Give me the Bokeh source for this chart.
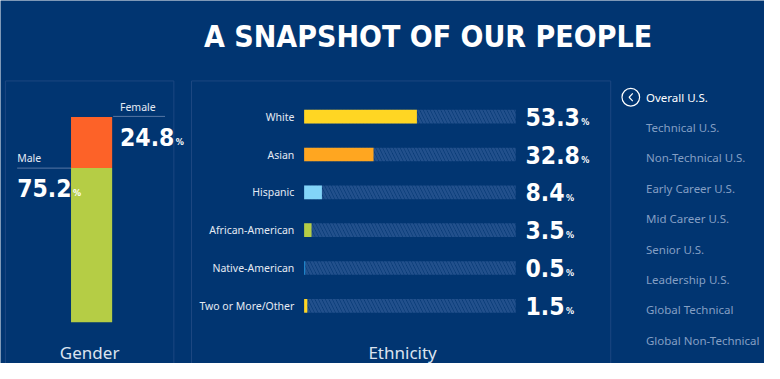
from bokeh.plotting import figure
from bokeh.models import Range1d
from bokeh.core.properties import value
from bokeh.embed import file_html
from bokeh.resources import INLINE

# ---------------- data ----------------
title = "A SNAPSHOT OF OUR PEOPLE"

gender_labels = ["Male", "Female"]
gender_values = [75.2, 24.8]
gender_colors = ["#b5cd45", "#fd6228"]

eth_labels = ["White", "Asian", "Hispanic", "African-American", "Native-American", "Two or More/Other"]
eth_values = [53.3, 32.8, 8.4, 3.5, 0.5, 1.5]
eth_colors = ["#ffd623", "#ffa620", "#82d4f8", "#b5cd45", "#1f8fd6", "#ffd623"]

menu_items = ["Overall U.S.", "Technical U.S.", "Non-Technical U.S.", "Early Career U.S.",
              "Mid Career U.S.", "Senior U.S.", "Leadership U.S.", "Global Technical",
              "Global Non-Technical"]

# ---------------- style / layout ----------------
BG = "#013571"
PANEL = "#1c4781"
HATCH = "#22508c"
TXT = "#e4eaf3"
MUTED = "#849fc4"
COND = value("DejaVu Sans Condensed")
SANS = value("Noto Sans")

RW, RH = 780, 379          # design canvas (reference units)
PW, PH = 764, 363          # figure pixels
SX = PW / RW               # px per design unit

p = figure(width=PW, height=PH, x_range=Range1d(0, RW), y_range=Range1d(RH, 0),
           output_backend="svg", toolbar_location=None, min_border=0,
           x_axis_location=None, y_axis_location=None,
           background_fill_color=BG, border_fill_color=BG, outline_line_color=None)
p.grid.visible = False


def lin_range(v0, p0, v1, p1, pa, pb):
    k = (v1 - v0) / (p1 - p0)
    return Range1d(v0 + (pa - p0) * k, v0 + (pb - p0) * k)


# scales: ethnicity 0..100 % spans design x 310..526, rows start at 121.3 spaced 39.5
p.extra_x_ranges = {"eth": lin_range(0, 310, 100, 526, 0, RW)}
p.extra_y_ranges = {"eth": lin_range(0, 121.3, 1, 160.8, RH, 0),
                    "gender": lin_range(0, 336, 100, 121.7, RH, 0)}


def num_width(s, size):
    w = 0.0
    for ch in s:
        w += 0.342 if ch == "." else 0.626
    return w * size / SX


# title
p.text(x=[436.5], y=[38], text=[title], text_align="center", text_baseline="middle",
       text_font=COND, text_font_style="bold", text_font_size="30px", text_color="white")

# panel boxes
p.quad(left=[5, 195], right=[177, 623], top=[84, 84], bottom=[400, 400],
       fill_color=None, line_color=PANEL, line_width=1)

# ---------------- gender ----------------
g_bottom = [0.0]
for v in gender_values[:-1]:
    g_bottom.append(g_bottom[-1] + v)
g_top = [b + v for b, v in zip(g_bottom, gender_values)]
p.vbar(x=[93, 93], width=42, bottom=g_bottom, top=g_top, fill_color=gender_colors,
       line_color=None, y_range_name="gender")

p.line(x=[115, 168], y=[121, 121], line_color="#5777a4", line_width=1)
p.line(x=[17, 72], y=[175, 175], line_color="#5777a4", line_width=1)
p.text(x=[122, 17], y=[111.5, 164], text=[gender_labels[1], gender_labels[0]],
       text_baseline="middle", text_font=SANS, text_font_size="10.5px", text_color=TXT)
VS = 24.5
g_vals = [f"{gender_values[1]:.1f}", f"{gender_values[0]:.1f}"]
g_x = [122, 17]
g_y = [142, 195.5]
p.text(x=g_x, y=g_y, text=g_vals, text_baseline="middle", text_font=COND,
       text_font_style="bold", text_font_size=f"{VS}px", text_color="white")
p.text(x=[x + num_width(s, VS) + 1.5 for x, s in zip(g_x, g_vals)], y=[y + 5.5 for y in g_y],
       text=["%", "%"], text_baseline="middle", text_font=COND, text_font_style="bold",
       text_font_size="9px", text_color="white")
p.text(x=[91], y=[367], text=["Gender"], text_align="center", text_baseline="middle",
       text_font=SANS, text_font_size="17px", text_color="#dbe3ef")

# ---------------- ethnicity ----------------
idx = list(range(len(eth_labels)))
p.hbar(y=idx, left=0, right=100, height=0.362, fill_color=BG, line_color=None,
       hatch_pattern="left_diagonal_line", hatch_color=HATCH, hatch_scale=7, hatch_weight=2.6,
       x_range_name="eth", y_range_name="eth")
p.hbar(y=idx, left=0, right=eth_values, height=0.362, fill_color=eth_colors, line_color=None,
       x_range_name="eth", y_range_name="eth")
p.text(x=300, y=idx, text=eth_labels, text_align="right", text_baseline="middle",
       text_font=SANS, text_font_size="10.5px", text_color=TXT, y_range_name="eth")
e_vals = [f"{v:.1f}" for v in eth_values]
p.text(x=536, y=idx, text=e_vals, text_baseline="middle",
       text_font=COND, text_font_style="bold", text_font_size=f"{VS}px", text_color="white",
       y_range_name="eth")
p.text(x=[536 + num_width(s, VS) + 1.5 for s in e_vals], y=[i + 0.14 for i in idx],
       text=["%"] * len(idx), text_baseline="middle", text_font=COND,
       text_font_style="bold", text_font_size="9px", text_color="white", y_range_name="eth")
p.text(x=[410.5], y=[367], text=["Ethnicity"], text_align="center", text_baseline="middle",
       text_font=SANS, text_font_size="17px", text_color="#dbe3ef")

# ---------------- menu ----------------
menu_y = [101 + 31.7 * i for i in range(len(menu_items))]
p.text(x=659, y=menu_y, text=menu_items, text_baseline="middle", text_font=SANS,
       text_font_size="11.5px", text_color=["white"] + [MUTED] * (len(menu_items) - 1))
p.circle(x=[643.5], y=[101], radius=9, fill_color=None, line_color="white", line_width=1.2)
p.line(x=[645.5, 641.8, 645.5], y=[97, 101, 105], line_color="white", line_width=1.2)

open("out.html", "w").write(file_html(p, INLINE))
